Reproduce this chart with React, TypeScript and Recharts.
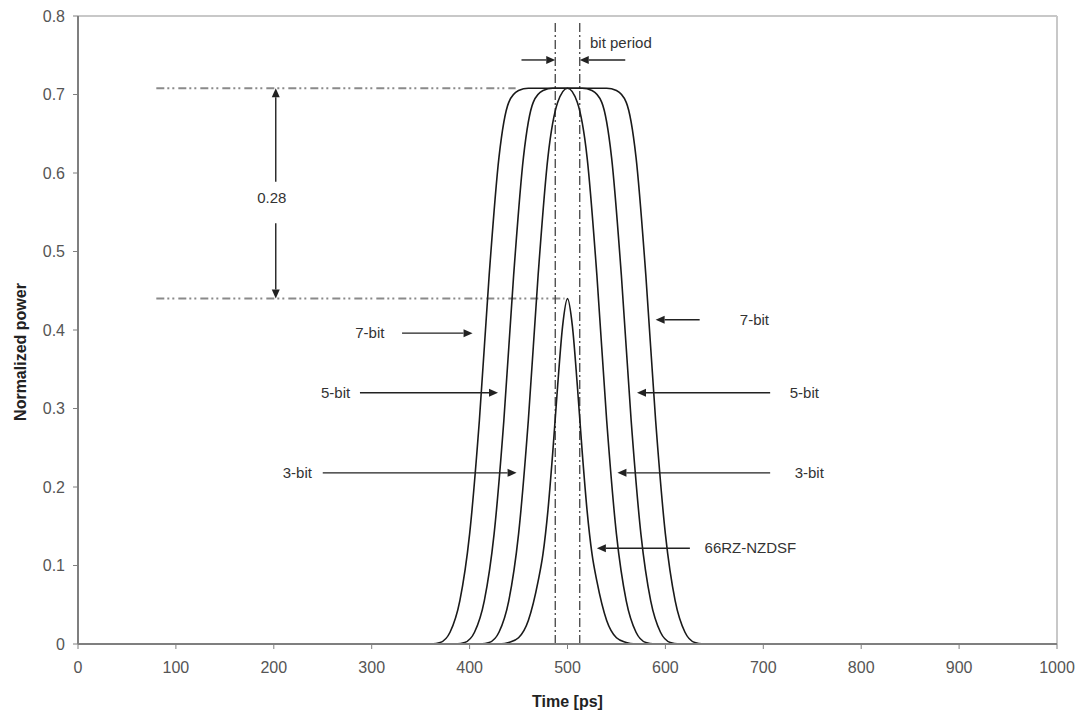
import { LineChart, Line, XAxis, YAxis, ReferenceLine, ReferenceDot } from 'recharts'

// pulse shapes: time [ps] vs normalized power
const time7bit = [360, 370, 380, 390, 400, 410, 420, 430, 440, 450, 460, 540, 550, 560, 570, 580, 590, 600, 610, 620, 630, 640]
const power7bit = [0, 0.002, 0.015, 0.055, 0.14, 0.285, 0.47, 0.62, 0.69, 0.705, 0.708, 0.708, 0.705, 0.69, 0.62, 0.47, 0.285, 0.14, 0.055, 0.015, 0.002, 0]

const time5bit = [385, 395, 405, 415, 425, 435, 445, 455, 465, 475, 485, 515, 525, 535, 545, 555, 565, 575, 585, 595, 605, 615]
const power5bit = [0, 0.002, 0.015, 0.055, 0.14, 0.285, 0.47, 0.62, 0.69, 0.705, 0.708, 0.708, 0.705, 0.69, 0.62, 0.47, 0.285, 0.14, 0.055, 0.015, 0.002, 0]

const time3bit = [410, 420, 430, 440, 450, 460, 470, 480, 490, 500, 510, 520, 530, 540, 550, 560, 570, 580, 590]
const power3bit = [0, 0.002, 0.015, 0.055, 0.14, 0.285, 0.47, 0.62, 0.69, 0.708, 0.69, 0.62, 0.47, 0.285, 0.14, 0.055, 0.015, 0.002, 0]

const timeRz = [430, 440, 450, 460, 470, 475, 480, 485, 490, 495, 500, 505, 510, 515, 520, 525, 530, 540, 550, 560, 570]
const powerRz = [0, 0.002, 0.008, 0.03, 0.08, 0.115, 0.17, 0.245, 0.33, 0.405, 0.44, 0.405, 0.33, 0.245, 0.17, 0.115, 0.08, 0.03, 0.008, 0.002, 0]

const xTicks = [0, 100, 200, 300, 400, 500, 600, 700, 800, 900, 1000]
const yTicks = [0, 0.1, 0.2, 0.3, 0.4, 0.5, 0.6, 0.7, 0.8]

// guide levels and bit slot edges
const peakLevel = 0.708
const rzPeakLevel = 0.44
const bitEdges = [487.5, 512.5]

// arrows [x1, y1, x2, y2], head at the second point
const arrows = [
  [331, 0.396, 403, 0.396],
  [288, 0.32, 429, 0.32],
  [250, 0.218, 448, 0.218],
  [635, 0.413, 590, 0.413],
  [707, 0.32, 571, 0.32],
  [707, 0.218, 551, 0.218],
  [625, 0.122, 530, 0.122],
  [453, 0.744, 487.5, 0.744],
  [559, 0.744, 512.5, 0.744],
  [202, 0.589, 202, 0.708],
  [202, 0.536, 202, 0.44],
]

const noteText = ['7-bit', '5-bit', '3-bit', '7-bit', '5-bit', '3-bit', '66RZ-NZDSF', 'bit period', '0.28']
const noteX = [313, 278, 239, 676, 727, 732, 640, 523, 198]
const noteY = [0.396, 0.32, 0.218, 0.413, 0.32, 0.218, 0.122, 0.766, 0.568]
const noteAnchor = ['end', 'end', 'end', 'start', 'start', 'start', 'start', 'start', 'middle']

const toPoints = (t: number[], p: number[]) => t.map((x, i) => ({ t: x, p: p[i] }))

const series = [
  toPoints(time7bit, power7bit),
  toPoints(time5bit, power5bit),
  toPoints(time3bit, power3bit),
  toPoints(timeRz, powerRz),
]

const Arrow = (props: any) => {
  const { x1, y1, x2, y2 } = props
  const a = Math.atan2(y2 - y1, x2 - x1)
  const len = 9
  const half = 4
  const bx = x2 - len * Math.cos(a)
  const by = y2 - len * Math.sin(a)
  const px = -Math.sin(a) * half
  const py = Math.cos(a) * half
  return (
    <g>
      <line x1={x1} y1={y1} x2={bx} y2={by} stroke='#222' strokeWidth={1.4} />
      <polygon points={`${x2},${y2} ${bx + px},${by + py} ${bx - px},${by - py}`} fill='#222' />
    </g>
  )
}

const noteShape = (text: string, anchor: string) => (props: any) => (
  <text x={props.cx} y={props.cy} dy='0.35em' textAnchor={anchor} fontSize={15} fill='#333'>
    {text}
  </text>
)

const XTitle = ({ viewBox }: any) => (
  <text x={viewBox.x + viewBox.width / 2} y={viewBox.y + 57} textAnchor='middle' dominantBaseline='central'
    fontSize={16} fontWeight='bold' fill='#222'>
    Time [ps]
  </text>
)

const YTitle = ({ viewBox }: any) => {
  const cx = viewBox.x + 10
  const cy = viewBox.y + viewBox.height / 2 + 22
  return (
    <text x={cx} y={cy} transform={`rotate(-90, ${cx}, ${cy})`} textAnchor='middle' dominantBaseline='central'
      fontSize={16} fontWeight='bold' fill='#222'>
      Normalized power
    </text>
  )
}

export default function App() {
  return (
    <div style={{ width: 1081, height: 713, overflow: 'hidden', fontFamily: '"Liberation Sans", Arial, sans-serif', background: '#fff' }}>
      <style>{'body { margin: 0; }'}</style>
      <LineChart width={1081} height={713} margin={{ top: 16, right: 24, bottom: 0, left: 10 }}>
        <XAxis type='number' dataKey='t' domain={[0, 1000]} ticks={xTicks} interval={0} height={69}
          axisLine={{ stroke: '#7f7f7f', strokeWidth: 2 }} tickLine={{ stroke: '#7f7f7f' }} tickSize={5} tickMargin={13}
          tick={{ fill: '#555', fontSize: 16 }} label={<XTitle />} />
        <YAxis type='number' domain={[0, 0.8]} ticks={yTicks} interval={0} width={68}
          axisLine={{ stroke: '#7f7f7f', strokeWidth: 2 }} tickLine={{ stroke: '#7f7f7f' }} tickSize={5} tickMargin={8}
          tick={{ fill: '#555', fontSize: 16 }} label={<YTitle />} />

        <ReferenceLine y={0.8} stroke='#c8c8c8' strokeWidth={2} />
        <ReferenceLine x={1000} stroke='#c8c8c8' strokeWidth={2} />

        <ReferenceLine segment={[{ x: 80, y: peakLevel }, { x: 447, y: peakLevel }]} stroke='#8a8a8a' strokeWidth={2} strokeDasharray='8 3 2 3 2 4' />
        <ReferenceLine segment={[{ x: 80, y: rzPeakLevel }, { x: 497, y: rzPeakLevel }]} stroke='#8a8a8a' strokeWidth={2} strokeDasharray='8 3 2 3 2 4' />
        {bitEdges.map((b) => (
          <ReferenceLine key={b} segment={[{ x: b, y: 0 }, { x: b, y: 0.795 }]} stroke='#444' strokeWidth={1.3} strokeDasharray='9 3 2 3' />
        ))}

        {series.map((d, i) => (
          <Line key={i} data={d} dataKey='p' type='monotone' stroke='#1a1a1a' strokeWidth={1.6} dot={false} isAnimationActive={false} />
        ))}

        {arrows.map(([x1, y1, x2, y2], i) => (
          <ReferenceLine key={'a' + i} segment={[{ x: x1, y: y1 }, { x: x2, y: y2 }]} shape={Arrow} />
        ))}
        {noteText.map((text, i) => (
          <ReferenceDot key={'n' + i} x={noteX[i]} y={noteY[i]} r={0} shape={noteShape(text, noteAnchor[i])} />
        ))}
      </LineChart>
    </div>
  )
}
